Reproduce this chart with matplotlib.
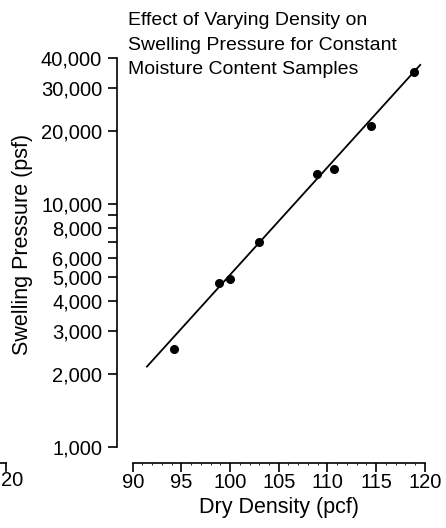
import matplotlib
matplotlib.use("Agg")
import matplotlib.pyplot as plt
from matplotlib.lines import Line2D
from matplotlib.ticker import FixedLocator, FuncFormatter, MultipleLocator

# Data
dry_density = [94.2, 98.9, 100.0, 103.0, 108.9, 110.7, 114.5, 118.9]
swelling_pressure = [2530, 4750, 4920, 6970, 13300, 13950, 21000, 35100]
fit_x = [91.4, 119.6]
fit_y = [2130, 37700]

x_ticks = [90, 95, 100, 105, 110, 115, 120]
y_ticks = [1000, 2000, 3000, 4000, 5000, 6000, 7000, 8000, 9000, 10000, 20000, 30000, 40000]
y_labelled = [1000, 2000, 3000, 4000, 5000, 6000, 8000, 10000, 20000, 30000, 40000]

title = "Effect of Varying Density on\nSwelling Pressure for Constant\nMoisture Content Samples"

plt.rcParams['font.family'] = ['Liberation Sans', 'DejaVu Sans']

W, H = 446, 528
fig = plt.figure(figsize=(W / 100, H / 100), dpi=100)
ax = fig.add_axes([132.7 / W, 1 - 447 / H, 292 / W, 389 / H])

ax.plot(fit_x, fit_y, color='black', lw=1.3, solid_capstyle='butt')
ax.plot(dry_density, swelling_pressure, 'o', color='black', ms=5.5)

ax.set_yscale('log')
ax.set_xlim(90, 120)
ax.set_ylim(1000, 40000)
ax.yaxis.set_major_locator(FixedLocator(y_ticks))
ax.yaxis.set_minor_locator(FixedLocator([]))
ax.yaxis.set_major_formatter(FuncFormatter(lambda v, p: f"{int(round(v)):,}" if int(round(v)) in y_labelled else ""))
ax.xaxis.set_major_locator(FixedLocator(x_ticks))
ax.xaxis.set_minor_locator(MultipleLocator(1))

for s in ['top', 'right']:
    ax.spines[s].set_visible(False)
for s in ['left', 'bottom']:
    ax.spines[s].set_position(('outward', 11.5))
    ax.spines[s].set_linewidth(1.2)

ax.tick_params(axis='both', which='major', direction='out', length=6.5, width=1.2,
               labelsize=14.5)
ax.tick_params(axis='y', which='major', pad=4)
ax.tick_params(axis='x', which='major', pad=1)
ax.tick_params(axis='x', which='minor', direction='out', length=1.2, width=0.6)

ax.set_xlabel("Dry Density (pcf)", fontsize=15.5, labelpad=3)
ax.set_ylabel("Swelling Pressure (psf)", fontsize=15.5)
ax.yaxis.set_label_coords(33 / W, 1 - 244 / H, transform=fig.transFigure)

fig.text(128 / W, 1 - 12 / H, title, ha='left', va='top', fontsize=14, linespacing=1.58)

# fragment of neighbouring panel at the bottom-left edge
fig.add_artist(Line2D([0, 6 / W], [1 - 463 / H, 1 - 463 / H], color='black', lw=1.2,
                      transform=fig.transFigure))
fig.add_artist(Line2D([6 / W, 6 / W], [1 - 463 / H, 1 - 471 / H], color='black', lw=1.2,
                      transform=fig.transFigure))
fig.text(0.5 / W, 1 - 471 / H, "20", ha='left', va='top', fontsize=14.5)

fig.savefig("out.png", dpi=100)
